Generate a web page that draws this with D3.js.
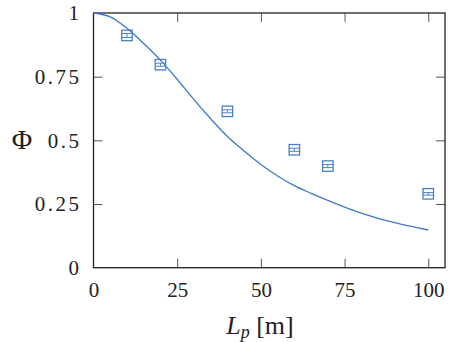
<!DOCTYPE html>
<html><head><meta charset="utf-8">
<script src="https://cdn.jsdelivr.net/npm/d3@7"></script>
<style>html,body{margin:0;padding:0;background:#fff;}</style>
</head><body>
<script>
// Data
const curveX = [0,5,10,15,20,25,30,35,40,45,50,55,60,65,70,75,80,85,90,95,100];
const curveY = [1.0,0.985,0.94,0.88,0.815,0.74,0.66,0.585,0.515,0.458,0.405,0.36,0.322,0.292,0.264,0.238,0.214,0.194,0.177,0.162,0.148];
const pointX = [10,20,40,60,70,100];
const pointY = [0.912,0.797,0.614,0.463,0.399,0.29];
const pointErr = [0.008,0.006,0.006,0.006,0.006,0.005];
const xTicks = [0,25,50,75,100];
const yTicks = [0,0.25,0.5,0.75,1];
const yTickLabels = ["0","0.25","0.5","0.75","1"];

const W = 457, H = 342;
const m = {left:93.5, top:13, right:445, bottom:267.7};
const FF = "Liberation Serif";
const svg = d3.select("body").append("svg").attr("width",W).attr("height",H)
  .attr("font-family",FF).style("font-family",`"${FF}"`);

const x = d3.scaleLinear().domain([0,105]).range([m.left, m.right]);
const y = d3.scaleLinear().domain([0,1]).range([m.bottom, m.top]);

const lineColor = "#3d79c7";
const markColor = "#4a82c8";
const axisColor = "#222";

function setFont(sel, size, italic){
  sel.attr("font-family",FF).style("font-family",`"${FF}"`)
     .attr("font-size",size).style("font-size",size+"px");
  if(italic) sel.attr("font-style","italic").style("font-style","italic");
  return sel;
}

// Axes (ticks inward, mirrored)
const tl = 9;
const axB = d3.axisBottom(x).tickValues(xTicks).tickSizeInner(-tl).tickSizeOuter(0).tickPadding(14);
const axT = d3.axisTop(x).tickValues(xTicks).tickSizeInner(-tl).tickSizeOuter(0).tickFormat("");
const axL = d3.axisLeft(y).tickValues(yTicks).tickSizeInner(-tl).tickSizeOuter(0).tickPadding(12)
  .tickFormat((d,i)=>yTickLabels[i]);
const axR = d3.axisRight(y).tickValues(yTicks).tickSizeInner(-tl).tickSizeOuter(0).tickFormat("");

function style(g){
  g.attr("font-family",null).attr("font-size",null);
  g.select(".domain").remove();
  g.selectAll(".tick line").attr("stroke","#555").attr("stroke-width",1);
  g.selectAll(".tick text").attr("fill","#222").call(s=>setFont(s,21,false));
}
svg.append("g").attr("transform",`translate(0,${m.bottom})`).call(axB).call(style);
svg.append("g").attr("transform",`translate(0,${m.top})`).call(axT).call(style);
const gL = svg.append("g").attr("transform",`translate(${m.left},0)`).call(axL).call(style);
gL.selectAll(".tick text").style("letter-spacing","2.5px");
svg.append("g").attr("transform",`translate(${m.right},0)`).call(axR).call(style);
svg.selectAll(".tick").filter(d=>d===0||d===1).select("line").remove();

// frame
svg.append("rect").attr("x",m.left).attr("y",m.top).attr("width",m.right-m.left).attr("height",m.bottom-m.top)
  .attr("fill","none").attr("stroke",axisColor).attr("stroke-width",1.3);

// curve
const curve = curveX.map((v,i)=>[v,curveY[i]]);
svg.append("path").datum(curve)
  .attr("d", d3.line().x(d=>x(d[0])).y(d=>y(d[1])).curve(d3.curveCatmullRom))
  .attr("fill","none").attr("stroke",lineColor).attr("stroke-width",1.3);

// markers with error bars
const s = 10.5;
const pts = pointX.map((v,i)=>({x:v,y:pointY[i],e:pointErr[i]}));
const g = svg.append("g").attr("stroke",markColor).attr("fill","none").attr("stroke-width",1.3);
pts.forEach(p=>{
  const cx = x(p.x), cy = y(p.y);
  g.append("rect").attr("x",cx-s/2).attr("y",cy-s/2).attr("width",s).attr("height",s);
  const y1 = y(p.y+p.e), y2 = y(p.y-p.e);
  g.append("line").attr("x1",cx).attr("x2",cx).attr("y1",y1).attr("y2",y2).attr("stroke-width",1);
  g.append("line").attr("x1",cx-s/2).attr("x2",cx+s/2).attr("y1",y1).attr("y2",y1).attr("stroke-width",1);
  g.append("line").attr("x1",cx-s/2).attr("x2",cx+s/2).attr("y1",y2).attr("y2",y2).attr("stroke-width",1);
});

// axis labels
const xl = svg.append("text").attr("x",260).attr("y",334)
  .attr("text-anchor","middle").attr("fill","#222");
setFont(xl,26,false);
setFont(xl.append("tspan"),26,true).text("L");
setFont(xl.append("tspan"),18,true).attr("dy",4).text("p");
setFont(xl.append("tspan"),26,false).attr("dy",-4).text(" [m]");

const phi = svg.append("text").attr("x",22).attr("y",149).attr("text-anchor","middle")
  .attr("fill","#222").text("Φ");
setFont(phi,28,false);
</script>
</body></html>
